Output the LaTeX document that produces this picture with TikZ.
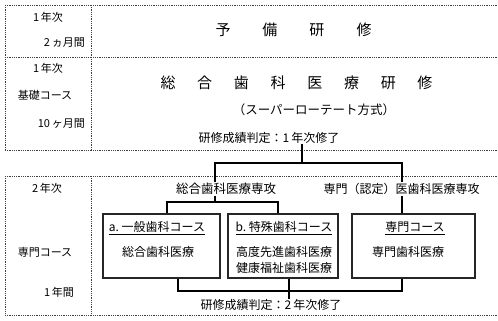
\documentclass[tikz,border=0pt]{standalone}
\usepackage{fontspec}
\setmainfont{Noto Sans CJK JP}
\begin{document}
\begin{tikzpicture}[x=1pt,y=-1pt,
  frame/.style={draw=black!75, line width=0.6pt, dash pattern=on 0.7pt off 1.1pt},
  conn/.style={draw=black, line width=1.1pt},
  cbox/.style={draw=black!85, line width=1.1pt, inner sep=0pt},
  lbl/.style={inner sep=0pt, font=\fontsize{11}{13}\selectfont},
  mid/.style={inner sep=0pt, font=\fontsize{12}{16}\selectfont},
  ttl/.style={inner sep=0pt, font=\fontsize{15}{17}\selectfont},
]
\useasboundingbox (0,0) rectangle (498,321);
\fill[white] (0,0) rectangle (498,321);

% dotted frame
\draw[frame] (5,5) -- (497,5);
\draw[frame] (5,57) -- (497,57);
\draw[frame] (5,150) -- (497,150);
\draw[frame] (5,5) -- (5,150);
\draw[frame] (91,5) -- (91,150);
\draw[frame] (5,176) -- (497,176);
\draw[frame] (5,315) -- (497,315);
\draw[frame] (5,176) -- (5,315);
\draw[frame] (91,176) -- (91,315);

% left column
\node[lbl] (r1a) at (48,17) {1\,年次};
\node[lbl, anchor=east] (r1b) at (85,43) {2\,ヵ月間};
\node[lbl] (r2a) at (48,68) {1\,年次};
\node[lbl] (r2b) at (45,95) {基礎コース};
\node[lbl, anchor=east] (r2c) at (85,124) {10\,ヶ月間};
\node[lbl] (r3a) at (47,188) {2\,年次};
\node[lbl] (r3b) at (45,252) {専門コース};
\node[lbl] (r3c) at (59,292) {1\,年間};

% titles
\node[ttl] (t1) at (293.5,30) {予\hspace{32pt}備\hspace{32pt}研\hspace{32pt}修};
\node[ttl] (t2) at (296.5,83) {総\hspace{21.7pt}合\hspace{21.7pt}歯\hspace{21.7pt}科\hspace{21.7pt}医\hspace{21.7pt}療\hspace{21.7pt}研\hspace{21.7pt}修};
\node[mid, font=\fontsize{12.5}{16}\selectfont] (t3) at (314,110) {（スーパーローテート方式）};
\node[mid] (c1) at (269,138) {研修成績判定：1\,年次修了};

% row 3 labels
\node[mid, font=\fontsize{12.5}{16}\selectfont, inner ysep=1pt] (l2a) at (226,189) {総合歯科医療専攻};
\node[mid, inner ysep=1pt] (l2b) at (401.5,189) {専門（認定）医歯科医療専攻};

% boxes
\node[cbox, minimum width=117pt, minimum height=64pt] (boxa) at (161.5,246) {};
\node[cbox, minimum width=110pt, minimum height=64pt] (boxb) at (283,246) {};
\node[cbox, minimum width=123pt, minimum height=64pt] (boxc) at (413.5,246) {};

\node[mid] (a1) at (157,228) {\underline{a.\ 一般歯科コース}};
\node[mid] (a2) at (158,252) {総合歯科医療};
\node[mid] (b1) at (284,228) {\underline{b.\ 特殊歯科コース}};
\node[mid] (b2) at (284,252) {高度先進歯科医療};
\node[mid] (b3) at (284,268) {健康福祉歯科医療};
\node[mid] (k1) at (415,228) {\underline{専門コース}};
\node[mid] (k2) at (408,252) {専門歯科医療};

\node[mid] (c2) at (271,305) {研修成績判定：2\,年次修了};

% junctions
\coordinate (jm) at (302,163);
\coordinate (ja) at (215,163);
\coordinate (jb) at (402,163);
\coordinate (ka) at (215,202);
\coordinate (kl) at (167,202);
\coordinate (kr) at (278,202);
\coordinate (ma) at (178,291);
\coordinate (mc) at (402,291);
\coordinate (mb) at (289,291);

% connectors
\draw[conn] (jm |- c1.south) -- (jm);
\draw[conn] (ja |- l2a.north) -- (ja) -- (jb) -- (jb |- l2b.north);
\draw[conn] (ja |- l2a.south) -- (ka);
\draw[conn] (kl |- boxa.north) -- (kl) -- (kr) -- (kr |- boxb.north);
\draw[conn] (jb |- l2b.south) -- (jb |- boxc.north);
\draw[conn] (ma |- boxa.south) -- (ma) -- (mc) -- (mc |- boxc.south);
\draw[conn] (mb |- boxb.south) -- (mb |- c2.north);
\end{tikzpicture}
\end{document}
